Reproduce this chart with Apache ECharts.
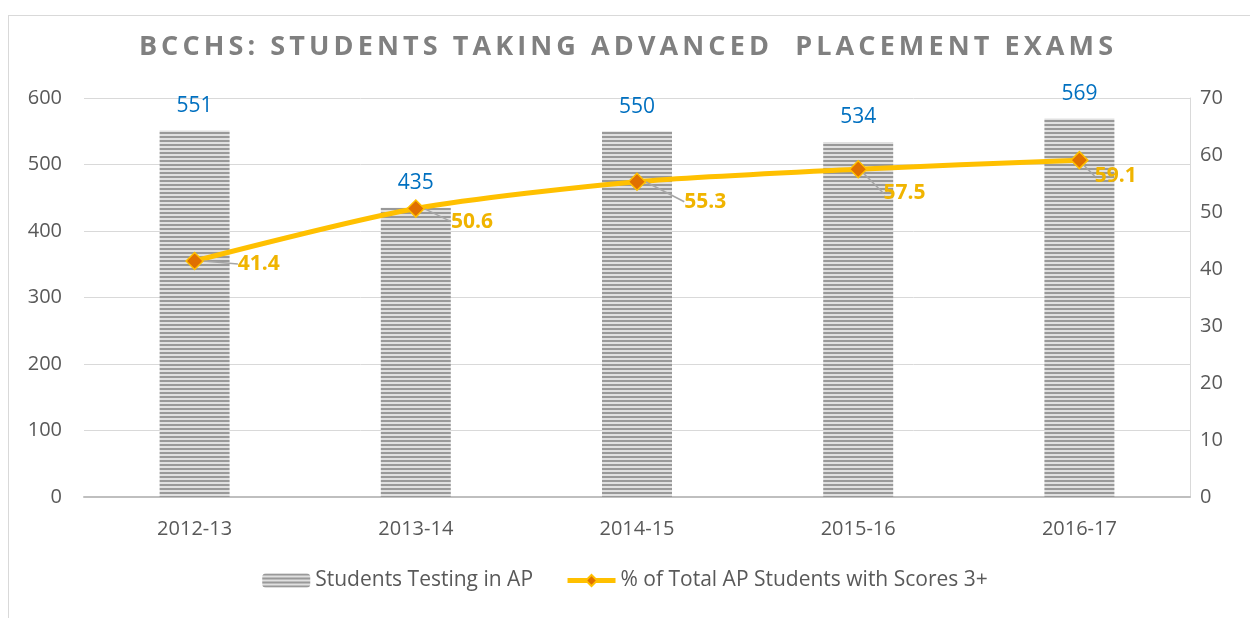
<!DOCTYPE html>
<html>
<head>
<meta charset="utf-8">
<script src="https://cdn.jsdelivr.net/npm/echarts@6/dist/echarts.min.js"></script>
<style>
  html, body { margin: 0; padding: 0; background: #fff; }
  #frame { position: absolute; left: 8px; top: 15px; width: 1250px; height: 610px; border: 1px solid #d9d9d9; box-sizing: border-box; }
  #title { position: absolute; left: 0; top: 26px; width: 1256px; text-align: center; font-family: "Open Sans", sans-serif; font-weight: bold; font-size: 27px; letter-spacing: 4.1px; color: #808080; white-space: pre; }
  #main { position: absolute; left: 0; top: 0; width: 1250px; height: 618px; }
</style>
</head>
<body>
<div id="frame"></div>
<div id="main"></div>
<div id="title">BCCHS: STUDENTS TAKING ADVANCED  PLACEMENT EXAMS</div>
<script>
// 數據
const years = ['2012-13', '2013-14', '2014-15', '2015-16', '2016-17'];
const studentsTesting = [551, 435, 550, 534, 569];
const pctScores3 = [41.4, 50.6, 55.3, 57.5, 59.1];

// 標籤偏移（只是樣式）
const labelShift = [[28, 3], [20, 13], [32, 20], [10, 24], [0, 16]];

// 條紋填充
function stripes() {
  const c = document.createElement('canvas');
  c.width = 4; c.height = 4;
  const ctx = c.getContext('2d');
  ctx.fillStyle = '#e0e0e0';
  ctx.fillRect(0, 0, 4, 4);
  ctx.fillStyle = '#999999';
  ctx.fillRect(0, 0, 4, 2);
  return c;
}

const chart = echarts.init(document.getElementById('main'));
const font = '"Open Sans", sans-serif';

const option = {
  animation: false,
  grid: { left: 84, right: 60, top: 98, bottom: 121 },
  legend: {
    bottom: 22,
    left: 'center',
    itemGap: 32,
    itemWidth: 48,
    itemHeight: 14,
    lineStyle: { width: 5 },
    textStyle: { color: '#595959', fontSize: 21, fontFamily: font },
    data: ['Students Testing in AP', '% of Total AP Students with Scores 3+']
  },
  xAxis: {
    type: 'category',
    data: years,
    axisTick: { show: false },
    axisLine: { lineStyle: { color: '#bfbfbf', width: 2 } },
    axisLabel: { color: '#595959', fontSize: 20, fontFamily: font, margin: 22 }
  },
  yAxis: [
    {
      type: 'value', min: 0, max: 600, interval: 100,
      splitLine: { lineStyle: { color: '#d9d9d9' } },
      axisLabel: { color: '#595959', fontSize: 20, fontFamily: font, margin: 22 }
    },
    {
      type: 'value', min: 0, max: 70, interval: 10,
      splitLine: { show: false },
      axisLine: { show: true, lineStyle: { color: '#d9d9d9' } },
      axisLabel: { color: '#595959', fontSize: 20, fontFamily: font, margin: 10 }
    }
  ],
  series: [
    {
      name: 'Students Testing in AP',
      type: 'bar',
      data: studentsTesting,
      barWidth: 70,
      itemStyle: { color: { image: stripes(), repeat: 'repeat' } },
      label: { show: true, position: 'top', distance: 14, color: '#0070c0', fontSize: 21, fontFamily: font }
    },
    {
      name: '% of Total AP Students with Scores 3+',
      type: 'line',
      yAxisIndex: 1,
      data: pctScores3,
      smooth: 0.25,
      symbol: 'diamond',
      symbolSize: 17,
      lineStyle: { color: '#ffc000', width: 5 },
      itemStyle: { color: '#e07000', borderColor: '#ffc000', borderWidth: 1.5 },
      label: { show: true, position: 'right', distance: 6, color: '#f0b400', fontSize: 21, fontWeight: 'bold', fontFamily: font },
      labelLine: { show: true, lineStyle: { color: '#a6a6a6', width: 1.5 } },
      labelLayout: function (p) {
        const s = labelShift[p.dataIndex] || [20, 10];
        return { dx: s[0], dy: s[1] };
      },
      z: 5
    }
  ]
};

chart.setOption(option);
</script>
</body>
</html>
